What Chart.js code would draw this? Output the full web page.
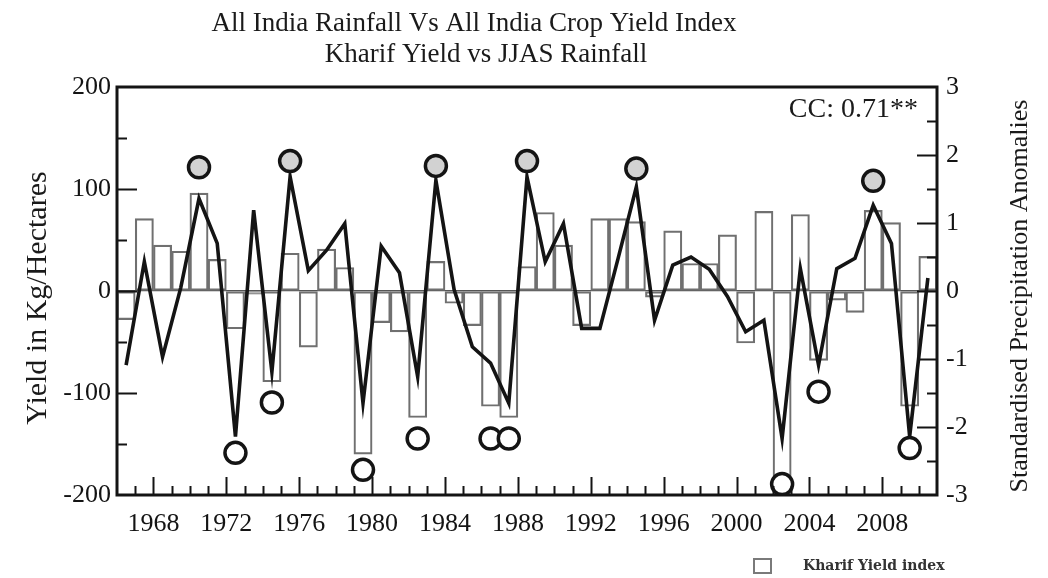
<!DOCTYPE html>
<html>
<head>
<meta charset="utf-8">
<script src="https://cdn.jsdelivr.net/npm/chart.js@4.4.1/dist/chart.umd.min.js"></script>
<style>
  html, body { margin: 0; padding: 0; background: #fff; }
  #c { display: block; }
</style>
</head>
<body>
<canvas id="c" width="1048" height="578"></canvas>
<script>
// Seasons 1966-2010
const years = [
  1966, 1967, 1968, 1969, 1970, 1971, 1972, 1973, 1974, 1975,
  1976, 1977, 1978, 1979, 1980, 1981, 1982, 1983, 1984, 1985,
  1986, 1987, 1988, 1989, 1990, 1991, 1992, 1993, 1994, 1995,
  1996, 1997, 1998, 1999, 2000, 2001, 2002, 2003, 2004, 2005,
  2006, 2007, 2008, 2009, 2010
];

// Kharif yield index, kg/hectare (left axis)
const kharifYield = [
  -28, 71, 45, 39, 96, 31, -37, -3, -89, 37,
  -55, 41, 23, -160, -31, -40, -124, 29, -12, -34,
  -113, -124, 24, 77, 45, -34, 71, 71, 68, -6,
  59, 27, 27, 55, -51, 78, -196, 75, -68, -9,
  -21, 79, 67, -113, 34
];

// JJAS rainfall, standardised anomaly (right axis)
const jjasRainfall = [
  -1.09, 0.43, -0.97, 0.05, 1.36, 0.70, -2.14, 1.19, -1.19, 1.68,
  0.30, 0.60, 0.99, -1.65, 0.66, 0.27, -1.26, 1.63, 0.02, -0.82,
  -1.06, -1.65, 1.68, 0.43, 0.99, -0.55, -0.55, 0.48, 1.53, -0.43,
  0.38, 0.50, 0.32, -0.08, -0.60, -0.43, -2.17, 0.33, -1.09, 0.33,
  0.48, 1.26, 0.70, -2.14, 0.19
];

// Flagged years: excess (shaded circles) and deficient (open circles)
const wetYears = [1970, 1975, 1983, 1988, 1994, 2007];
const wetMarks = [1.82, 1.91, 1.84, 1.91, 1.80, 1.62];
const dryYears = [1972, 1974, 1979, 1982, 1986, 1987, 2002, 2004, 2009];
const dryMarks = [-2.38, -1.64, -2.63, -2.17, -2.17, -2.17, -2.84, -1.48, -2.31];

// Axis tick labels
const yearTicks = [1968, 1972, 1976, 1980, 1984, 1988, 1992, 1996, 2000, 2004, 2008];
const yieldTicks = [-200, -100, 0, 100, 200];
const rainTicks = [-3, -2, -1, 0, 1, 2, 3];

const SERIF = "'Liberation Serif', 'Times New Roman', serif";
const INK = '#141414';

// each season occupies the interval [year, year + 1]
const slot = y => y + 0.5;
const pairs = (xs, ys) => xs.map((x, i) => ({ x: slot(x), y: ys[i] }));

const fixTicks = list => scale => { scale.ticks = list.map(v => ({ value: v })); };

function verticalText(ctx, text, x, y, font) {
  ctx.save();
  ctx.translate(x, y);
  ctx.rotate(-Math.PI / 2);
  ctx.textAlign = 'center';
  ctx.textBaseline = 'middle';
  ctx.font = font;
  ctx.fillText(text, 0, 0);
  ctx.restore();
}

// Frame, inward tick marks, titles, annotation and legend
const decorations = {
  id: 'decorations',
  afterDraw(chart) {
    const { ctx, chartArea: a, scales } = chart;
    const x = scales.x, yL = scales.y, yR = scales.y2;
    ctx.save();
    ctx.strokeStyle = INK;
    ctx.lineCap = 'butt';

    // tick marks pointing into the plot
    ctx.lineWidth = 2;
    ctx.beginPath();
    for (let yr = 1967; yr <= 2010; yr++) {
      const px = Math.round(x.getPixelForValue(yr)) + 0.5;
      const len = yr % 4 === 0 ? 18 : 9;
      ctx.moveTo(px, a.bottom);
      ctx.lineTo(px, a.bottom - len);
    }
    for (let v = -150; v <= 150; v += 50) {
      const py = Math.round(yL.getPixelForValue(v)) + 0.5;
      const len = v % 100 === 0 ? 20 : 10;
      ctx.moveTo(a.left, py);
      ctx.lineTo(a.left + len, py);
    }
    for (let v = -2.5; v <= 2.5; v += 0.5) {
      const py = Math.round(yR.getPixelForValue(v)) + 0.5;
      const len = Number.isInteger(v) ? 20 : 10;
      ctx.moveTo(a.right, py);
      ctx.lineTo(a.right - len, py);
    }
    ctx.stroke();

    // plot frame
    ctx.lineWidth = 3;
    ctx.strokeRect(a.left, a.top, a.right - a.left, a.bottom - a.top);

    // titles
    ctx.fillStyle = '#1a1a1a';
    ctx.textAlign = 'center';
    ctx.textBaseline = 'alphabetic';
    ctx.font = '27px ' + SERIF;
    ctx.fillText('All India Rainfall Vs All India Crop Yield Index', 474, 31);
    ctx.fillText('Kharif Yield vs JJAS Rainfall', 486, 62);

    // correlation note
    ctx.textAlign = 'right';
    ctx.font = '28px ' + SERIF;
    ctx.fillText('CC: 0.71**', a.right - 19, 117);

    // axis titles, both reading bottom to top
    verticalText(ctx, 'Yield in Kg/Hectares', 38, 298, '30px ' + SERIF);
    verticalText(ctx, 'Standardised Precipitation Anomalies', 1020, 296, '26px ' + SERIF);

    // legend entry for the bars
    ctx.lineWidth = 2;
    ctx.strokeStyle = '#7a7a7a';
    ctx.strokeRect(754, 559, 17, 14);
    ctx.fillStyle = '#333';
    ctx.textAlign = 'left';
    ctx.textBaseline = 'middle';
    ctx.font = 'bold 14px "DejaVu Serif", serif';
    ctx.fillText('Kharif Yield index', 803, 566);
    ctx.restore();
  }
};

new Chart(document.getElementById('c'), {
  type: 'bar',
  data: {
    datasets: [
      {
        type: 'scatter',
        label: 'Excess years',
        data: pairs(wetYears, wetMarks),
        yAxisID: 'y2',
        pointRadius: 10.5,
        pointBorderWidth: 3.5,
        pointBorderColor: INK,
        pointBackgroundColor: '#d2d2d2',
        order: 1
      },
      {
        type: 'scatter',
        label: 'Deficient years',
        data: pairs(dryYears, dryMarks),
        yAxisID: 'y2',
        pointRadius: 10.5,
        pointBorderWidth: 3.5,
        pointBorderColor: INK,
        pointBackgroundColor: '#ffffff',
        order: 1
      },
      {
        type: 'line',
        label: 'JJAS Rainfall',
        data: pairs(years, jjasRainfall),
        yAxisID: 'y2',
        borderColor: INK,
        borderWidth: 3.6,
        borderJoinStyle: 'miter',
        pointRadius: 0,
        tension: 0,
        fill: false,
        order: 2
      },
      {
        type: 'bar',
        label: 'Kharif Yield index',
        data: pairs(years, kharifYield),
        yAxisID: 'y',
        backgroundColor: 'rgba(255,255,255,0)',
        borderColor: '#707070',
        borderWidth: 1.5,
        borderSkipped: false,
        barPercentage: 1,
        categoryPercentage: 1,
        order: 3
      }
    ]
  },
  options: {
    responsive: false,
    animation: false,
    devicePixelRatio: 1,
    layout: { padding: { top: 87, right: 0, bottom: 43, left: 0 } },
    plugins: {
      legend: { display: false },
      title: { display: false },
      tooltip: { enabled: false }
    },
    scales: {
      x: {
        type: 'linear',
        min: 1966,
        max: 2011,
        offset: false,
        afterBuildTicks: fixTicks(yearTicks),
        afterFit: s => { s.height = 40; },
        grid: { display: false },
        border: { display: false },
        ticks: {
          padding: 6,
          color: INK,
          font: { family: SERIF, size: 26 },
          maxRotation: 0,
          autoSkip: false,
          callback: v => String(v)
        }
      },
      y: {
        position: 'left',
        min: -200,
        max: 200,
        afterBuildTicks: fixTicks(yieldTicks),
        afterFit: s => { s.width = 117; },
        grid: {
          drawTicks: false,
          color: c => (c.tick && c.tick.value === 0 ? '#555' : 'rgba(0,0,0,0)'),
          lineWidth: 1.3
        },
        border: { display: false },
        ticks: {
          padding: 6,
          color: INK,
          font: { family: SERIF, size: 26 },
          callback: v => String(v)
        }
      },
      y2: {
        position: 'right',
        min: -3,
        max: 3,
        afterBuildTicks: fixTicks(rainTicks),
        afterFit: s => { s.width = 111; },
        grid: { display: false, drawTicks: false },
        border: { display: false },
        ticks: {
          padding: 9,
          color: INK,
          font: { family: SERIF, size: 26 },
          callback: v => String(v)
        }
      }
    }
  },
  plugins: [decorations]
});
</script>
</body>
</html>
